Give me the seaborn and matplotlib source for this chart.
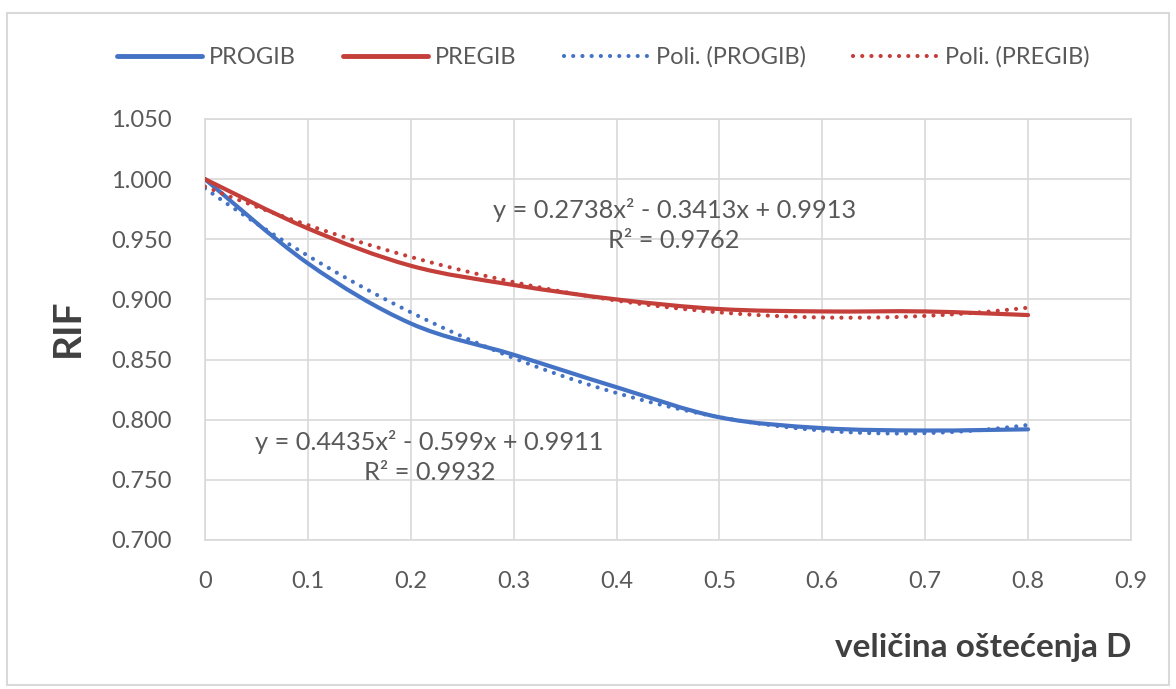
import numpy as np
import matplotlib
matplotlib.use("Agg")
import matplotlib.pyplot as plt
import seaborn as sns
from matplotlib.path import Path
from matplotlib.patches import PathPatch, Rectangle
from matplotlib.lines import Line2D

# ---- data ----
D = [0.0, 0.1, 0.2, 0.3, 0.4, 0.5, 0.6, 0.7, 0.8]
progib = [1.000, 0.930, 0.880, 0.854, 0.827, 0.802, 0.793, 0.791, 0.792]
pregib = [1.000, 0.959, 0.928, 0.912, 0.900, 0.892, 0.890, 0.890, 0.887]
series_names = ["PROGIB", "PREGIB", "Poli. (PROGIB)", "Poli. (PREGIB)"]
eq_progib = "y = 0.4435x² - 0.599x + 0.9911\nR² = 0.9932"
eq_pregib = "y = 0.2738x² - 0.3413x + 0.9913\nR² = 0.9762"
y_ticks = [0.700, 0.750, 0.800, 0.850, 0.900, 0.950, 1.000, 1.050]
x_ticks = [0, 0.1, 0.2, 0.3, 0.4, 0.5, 0.6, 0.7, 0.8, 0.9]
x_label = "veličina oštećenja D"
y_label = "RIF"

BLUE = "#4472C4"
RED = "#C43E3A"
GRAY = "#595959"
GRID = "#D9D9D9"

sns.set_theme(style="white")
plt.rcParams["font.family"] = ["Lato", "DejaVu Sans"]

fig = plt.figure(figsize=(11.76, 6.89), dpi=100)
ax = fig.add_axes([0.1743, 0.2163, 0.7874, 0.6110])


def smooth_path(xs, ys):
    """Excel-like smoothed line: cubic Bezier segments through the data points."""
    p = np.column_stack([xs, ys]).astype(float)
    n = len(p)
    verts = [p[0]]
    codes = [Path.MOVETO]
    for i in range(n - 1):
        p0 = p[i - 1] if i > 0 else p[i]
        p1 = p[i]
        p2 = p[i + 1]
        p3 = p[i + 2] if i + 2 < n else p[i + 1]
        c1 = p1 + (p2 - p0) / 6.0
        c2 = p2 - (p3 - p1) / 6.0
        verts += [c1, c2, p2]
        codes += [Path.CURVE4] * 3
    return Path(verts, codes)


for ys, col in [(progib, BLUE), (pregib, RED)]:
    ax.add_patch(PathPatch(smooth_path(D, ys), facecolor="none", edgecolor=col,
                           lw=3.0, capstyle="round", joinstyle="round", zorder=3))

dot_style = dict(lw=3.0, linestyle=(0, (0.01, 2.2)), dash_capstyle="round")
for ys, col in [(progib, BLUE), (pregib, RED)]:
    sns.regplot(x=D, y=ys, order=2, ci=None, scatter=False, ax=ax,
                color=col, line_kws=dict(zorder=4, **dot_style))

ax.set_xlim(0, 0.9)
ax.set_ylim(0.700, 1.050)
ax.set_xticks(x_ticks)
ax.set_xticklabels(["0" if t == 0 else f"{t:.1f}" for t in x_ticks])
ax.set_yticks(y_ticks)
ax.set_yticklabels([f"{t:.3f}" for t in y_ticks])
ax.tick_params(axis="both", length=0, labelsize=17, colors=GRAY)
ax.tick_params(axis="y", pad=24)
ax.tick_params(axis="x", pad=22)
ax.grid(True, color=GRID, lw=1.2)
ax.set_axisbelow(True)
for s in ax.spines.values():
    s.set_color(GRID)
    s.set_linewidth(1.2)
ax.set_xlabel("")
ax.set_ylabel("")

fig.text(0.057, 0.525, y_label, rotation=90, fontsize=28, fontweight="bold",
         color="#404040", ha="center", va="center")
fig.text(0.9617, 0.060, x_label, fontsize=24, fontweight="bold",
         color="#404040", ha="right", va="center")

ax.text(0.456, 0.962, eq_pregib, fontsize=18.3, color=GRAY, ha="center",
        va="center", linespacing=1.35, zorder=5)
ax.text(0.218, 0.769, eq_progib, fontsize=18.3, color=GRAY, ha="center",
        va="center", linespacing=1.35, zorder=5)

handles = [
    Line2D([], [], color=BLUE, lw=3.5),
    Line2D([], [], color=RED, lw=3.5),
    Line2D([], [], color=BLUE, **dot_style),
    Line2D([], [], color=RED, **dot_style),
]
leg = fig.legend(handles, series_names, loc="center", bbox_to_anchor=(0.513, 0.917),
                 ncol=4, frameon=False, fontsize=17, handlelength=3.6,
                 handletextpad=0.3, columnspacing=2.0, labelcolor=GRAY)

fig.patches.append(Rectangle((0.006, 0.006), 0.988, 0.975, transform=fig.transFigure,
                             fill=False, edgecolor=GRID, lw=1.5))

fig.savefig("out.png", dpi=100)
